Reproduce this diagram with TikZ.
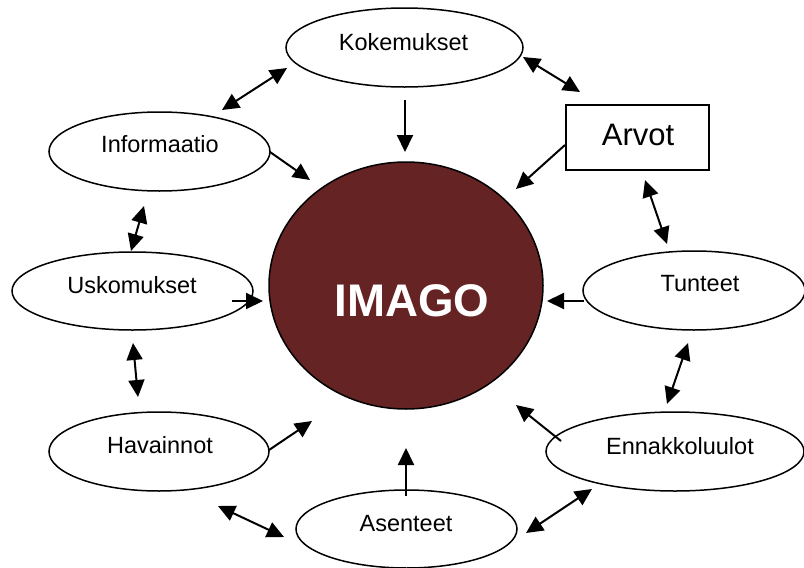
\documentclass[tikz,border=0pt]{standalone}
\usepackage{fontspec}
\setmainfont{Liberation Sans}
\usetikzlibrary{arrows.meta,shapes.geometric}
\definecolor{imagored}{RGB}{101,35,35}
\tikzset{
  ell/.style={ellipse,draw=black,line width=1.5pt,fill=white,inner sep=0pt},
  lbl/.style={inner sep=0pt,font=\fontsize{23.5}{28}\selectfont},
  conn/.style={line width=2pt,-{Triangle[length=17pt,width=16pt]}},
  bconn/.style={line width=2pt,{Triangle[length=17pt,width=16pt]}-{Triangle[length=17pt,width=16pt]}}
}
\begin{document}
\begin{tikzpicture}[x=1pt,y=-1pt]
\useasboundingbox (0,0) rectangle (804,568);
% central circle
\node[ellipse,draw=black,line width=1.5pt,fill=imagored,minimum width=274pt,minimum height=247pt,inner sep=0pt] (imago) at (406,285.5) {};
\node[inner sep=0pt,text=white,font=\fontsize{45.7}{50}\selectfont\bfseries] (imagot) at (412,301) {IMAGO};
% ellipses
\node[ell,minimum width=237pt,minimum height=79pt] (kok) at (404.5,47.5) {};
\node[lbl] (kokt) at (403.5,42) {Kokemukset};
\node[ell,minimum width=221pt,minimum height=79pt] (info) at (159.5,151.5) {};
\node[lbl] (infot) at (160,144) {Informaatio};
\node[ell,minimum width=241pt,minimum height=78pt] (usk) at (132.5,291) {};
\node[lbl] (uskt) at (132,285) {Uskomukset};
\node[ell,minimum width=222pt,minimum height=79pt] (tun) at (694,290.5) {};
\node[lbl] (tunt) at (700,284) {Tunteet};
\node[ell,minimum width=220pt,minimum height=79pt] (hav) at (159,451.5) {};
\node[lbl] (havt) at (160,445) {Havainnot};
\node[ell,minimum width=258pt,minimum height=79pt] (enn) at (675,451.5) {};
\node[lbl] (ennt) at (680,446) {Ennakkoluulot};
\node[ell,minimum width=221pt,minimum height=78pt] (ase) at (406.5,529) {};
\node[lbl] (aset) at (406,524) {Asenteet};
% Arvot box
\node[draw=black,line width=1.5pt,fill=white,minimum width=143pt,minimum height=65pt,inner sep=0pt] (arvot) at (637.5,137.5) {};
\node[inner sep=0pt,font=\fontsize{31}{36}\selectfont] (arvott) at (638,135) {Arvot};
% connector end points
\coordinate (a1) at (222,110); \coordinate (a2) at (287,68);
\coordinate (b1) at (523,57);  \coordinate (b2) at (580,92);
\coordinate (c1) at (405,100); \coordinate (c2) at (405,152);
\coordinate (d1) at (270,152); \coordinate (d2) at (310,180);
\coordinate (e1) at (565,145); \coordinate (e2) at (516,189);
\coordinate (f1) at (645,180); \coordinate (f2) at (667,244);
\coordinate (g1) at (584,301); \coordinate (g2) at (547,301);
\coordinate (h1) at (144,206); \coordinate (h2) at (131,251);
\coordinate (i1) at (232,301); \coordinate (i2) at (263,301);
\coordinate (j1) at (133,343); \coordinate (j2) at (138,397);
\coordinate (k1) at (269,450); \coordinate (k2) at (312,421);
\coordinate (l1) at (218,506); \coordinate (l2) at (284,537);
\coordinate (m1) at (688,343); \coordinate (m2) at (667,404);
\coordinate (n1) at (561,441); \coordinate (n2) at (516,405);
\coordinate (o1) at (526,533); \coordinate (o2) at (592,489);
\coordinate (p1) at (406,496); \coordinate (p2) at (406,448);
% connectors
\draw[bconn] (a1) -- (a2);
\draw[bconn] (b1) -- (b2);
\draw[conn] (c1) -- (c2);
\draw[conn] (d1) -- (d2);
\draw[conn] (e1) -- (e2);
\draw[bconn] (f1) -- (f2);
\draw[conn] (g1) -- (g2);
\draw[bconn] (h1) -- (h2);
\draw[conn] (i1) -- (i2);
\draw[bconn] (j1) -- (j2);
\draw[conn] (k1) -- (k2);
\draw[bconn] (l1) -- (l2);
\draw[bconn] (m1) -- (m2);
\draw[conn] (n1) -- (n2);
\draw[bconn] (o1) -- (o2);
\draw[conn] (p1) -- (p2);
\end{tikzpicture}
\end{document}
